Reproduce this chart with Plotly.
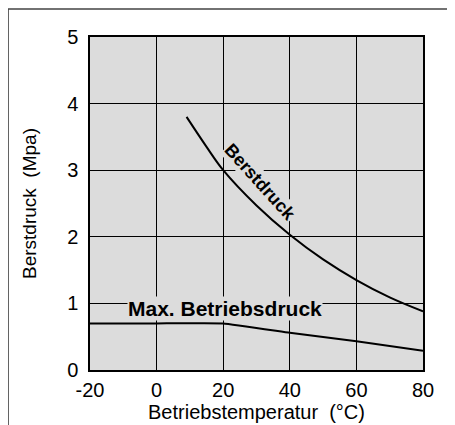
import plotly.graph_objects as go

# Berstdruck curve (burst pressure) vs temperature
burst_temp = [9, 15, 20, 30, 40, 50, 60, 70, 80]
burst_mpa = [3.8, 3.35, 3.0, 2.47, 2.03, 1.66, 1.35, 1.09, 0.88]

# Max. Betriebsdruck (max operating pressure)
oper_temp = [-20, 0, 20, 40, 60, 80]
oper_mpa = [0.7, 0.7, 0.7, 0.56, 0.43, 0.29]

x_ticks = [-20, 0, 20, 40, 60, 80]
x_labels = ["-20", "0", "20", "40", "60", "80"]
y_ticks = [0, 1, 2, 3, 4, 5]

FONT = "Liberation Sans, Arial, Helvetica, sans-serif"
BG = "#dcdcdc"
NB = "\u00a0"

fig = go.Figure()
fig.add_trace(go.Scatter(x=burst_temp, y=burst_mpa, mode="lines",
                         line=dict(color="black", width=2, shape="spline"),
                         hoverinfo="skip"))
fig.add_trace(go.Scatter(x=oper_temp, y=oper_mpa, mode="lines",
                         line=dict(color="black", width=2, shape="spline", smoothing=0.3),
                         hoverinfo="skip"))

# curve labels (background hides the grid lines behind them)
fig.add_annotation(x=31, y=2.82, text="<b>Berstdruck</b>", showarrow=False,
                   textangle=48, font=dict(family=FONT, size=18, color="black"),
                   bgcolor=BG, borderpad=0)
fig.add_annotation(x=20.5, y=0.92, text="<b>Max. Betriebsdruck</b>", showarrow=False,
                   font=dict(family=FONT, size=21, color="black"),
                   bgcolor=BG, borderpad=0)

# outer frame of the figure
fig.add_shape(type="rect", xref="paper", yref="paper",
              x0=-0.246, x1=1.3, y0=-0.4, y1=1.084,
              line=dict(color="#444444", width=1.5), layer="below")

# page body adds 8px offset, so margins are shifted accordingly
fig.update_layout(
    width=455, height=425,
    margin=dict(l=82, r=40, t=29, b=63, autoexpand=False),
    paper_bgcolor="white", plot_bgcolor=BG,
    showlegend=False,
    font=dict(family=FONT, size=20, color="black"),
)
fig.update_xaxes(range=[-20, 80], tickvals=x_ticks, ticktext=x_labels,
                 showgrid=True, gridcolor="black", gridwidth=1, zeroline=False,
                 showline=True, linecolor="black", linewidth=1.5, mirror=True,
                 ticks="outside", ticklen=1, tickcolor="rgba(0,0,0,0)",
                 tickfont=dict(size=20), automargin=False,
                 title=dict(text=f"Betriebstemperatur{NB}{NB}(°C)", standoff=0,
                            font=dict(size=20)))
fig.update_yaxes(range=[0, 5], tickvals=y_ticks,
                 showgrid=True, gridcolor="black", gridwidth=1, zeroline=False,
                 showline=True, linecolor="black", linewidth=1.5, mirror=True,
                 ticks="outside", ticklen=6, tickcolor="rgba(0,0,0,0)",
                 tickfont=dict(size=20), automargin=False,
                 title=dict(text=f"Berstdruck{NB}{NB}(Mpa)", standoff=25,
                            font=dict(size=19)))

fig.write_html("out.html")
